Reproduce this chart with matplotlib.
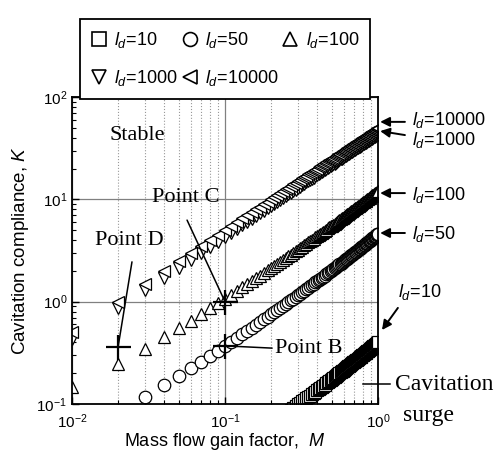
import matplotlib
matplotlib.use('Agg')
import matplotlib.pyplot as plt
from matplotlib.lines import Line2D

plt.rcParams['font.family'] = ['Liberation Sans', 'DejaVu Sans']
plt.rcParams['mathtext.fontset'] = 'custom'
plt.rcParams['mathtext.rm'] = 'Liberation Sans'
plt.rcParams['mathtext.it'] = 'Liberation Sans:italic'
plt.rcParams['mathtext.bf'] = 'Liberation Sans:bold'

# mass flow gain factor M (step 0.01)
M = [0.01, 0.02, 0.03, 0.04, 0.05, 0.06, 0.07, 0.08, 0.09, 0.10,
     0.11, 0.12, 0.13, 0.14, 0.15, 0.16, 0.17, 0.18, 0.19, 0.20,
     0.21, 0.22, 0.23, 0.24, 0.25, 0.26, 0.27, 0.28, 0.29, 0.30,
     0.31, 0.32, 0.33, 0.34, 0.35, 0.36, 0.37, 0.38, 0.39, 0.40,
     0.41, 0.42, 0.43, 0.44, 0.45, 0.46, 0.47, 0.48, 0.49, 0.50,
     0.51, 0.52, 0.53, 0.54, 0.55, 0.56, 0.57, 0.58, 0.59, 0.60,
     0.61, 0.62, 0.63, 0.64, 0.65, 0.66, 0.67, 0.68, 0.69, 0.70,
     0.71, 0.72, 0.73, 0.74, 0.75, 0.76, 0.77, 0.78, 0.79, 0.80,
     0.81, 0.82, 0.83, 0.84, 0.85, 0.86, 0.87, 0.88, 0.89, 0.90,
     0.91, 0.92, 0.93, 0.94, 0.95, 0.96, 0.97, 0.98, 0.99, 1.00]

# l_d = 10, from M = 0.25
K_10 = [0.081, 0.085, 0.088, 0.092, 0.095, 0.099,
        0.103, 0.106, 0.110, 0.114, 0.117, 0.121, 0.125, 0.128, 0.132, 0.136,
        0.140, 0.144, 0.148, 0.151, 0.155, 0.159, 0.163, 0.167, 0.171, 0.175,
        0.179, 0.183, 0.187, 0.191, 0.195, 0.199, 0.204, 0.208, 0.212, 0.216,
        0.220, 0.224, 0.229, 0.233, 0.237, 0.242, 0.246, 0.250, 0.255, 0.259,
        0.263, 0.268, 0.272, 0.277, 0.281, 0.286, 0.290, 0.295, 0.299, 0.304,
        0.309, 0.313, 0.318, 0.323, 0.327, 0.332, 0.337, 0.341, 0.346, 0.351,
        0.356, 0.361, 0.366, 0.370, 0.375, 0.380, 0.385, 0.390, 0.395, 0.400]

# l_d = 50, from M = 0.03
K_50 = [0.117, 0.153, 0.188, 0.224, 0.260, 0.297, 0.333, 0.370,
        0.407, 0.445, 0.482, 0.520, 0.558, 0.596, 0.634, 0.673, 0.712, 0.751,
        0.790, 0.830, 0.869, 0.909, 0.950, 0.990, 1.03, 1.07, 1.11, 1.15,
        1.20, 1.24, 1.28, 1.32, 1.36, 1.41, 1.45, 1.49, 1.54, 1.58,
        1.62, 1.67, 1.71, 1.76, 1.80, 1.85, 1.89, 1.94, 1.98, 2.03,
        2.07, 2.12, 2.17, 2.21, 2.26, 2.31, 2.35, 2.40, 2.45, 2.50,
        2.55, 2.59, 2.64, 2.69, 2.74, 2.79, 2.84, 2.89, 2.94, 2.99,
        3.04, 3.09, 3.14, 3.19, 3.24, 3.30, 3.35, 3.40, 3.45, 3.50,
        3.56, 3.61, 3.66, 3.72, 3.77, 3.82, 3.88, 3.93, 3.99, 4.04,
        4.10, 4.15, 4.21, 4.26, 4.32, 4.38, 4.43, 4.49, 4.55, 4.60]

K_100 = [0.145, 0.246, 0.347, 0.448, 0.550, 0.652, 0.755, 0.858, 0.961, 1.07,
         1.17, 1.27, 1.38, 1.48, 1.59, 1.70, 1.80, 1.91, 2.02, 2.13,
         2.23, 2.34, 2.45, 2.56, 2.67, 2.78, 2.89, 3.00, 3.11, 3.23,
         3.34, 3.45, 3.56, 3.68, 3.79, 3.90, 4.02, 4.13, 4.25, 4.37,
         4.48, 4.60, 4.72, 4.83, 4.95, 5.07, 5.19, 5.31, 5.43, 5.55,
         5.67, 5.79, 5.91, 6.03, 6.15, 6.27, 6.40, 6.52, 6.64, 6.77,
         6.89, 7.01, 7.14, 7.26, 7.39, 7.52, 7.64, 7.77, 7.90, 8.03,
         8.15, 8.28, 8.41, 8.54, 8.67, 8.80, 8.93, 9.06, 9.19, 9.33,
         9.46, 9.59, 9.72, 9.86, 9.99, 10.12, 10.26, 10.39, 10.53, 10.67,
         10.80, 10.94, 11.07, 11.21, 11.35, 11.49, 11.63, 11.77, 11.91, 12.05]

K_1000 = [0.43, 0.86, 1.29, 1.72, 2.15, 2.58, 3.01, 3.44, 3.87, 4.30,
          4.73, 5.16, 5.59, 6.02, 6.45, 6.88, 7.31, 7.74, 8.17, 8.60,
          9.03, 9.46, 9.89, 10.32, 10.75, 11.18, 11.61, 12.04, 12.47, 12.90,
          13.33, 13.76, 14.19, 14.62, 15.05, 15.48, 15.91, 16.34, 16.77, 17.20,
          17.63, 18.06, 18.49, 18.92, 19.35, 19.78, 20.21, 20.64, 21.07, 21.50,
          21.93, 22.36, 22.79, 23.22, 23.65, 24.08, 24.51, 24.94, 25.37, 25.80,
          26.23, 26.66, 27.09, 27.52, 27.95, 28.38, 28.81, 29.24, 29.67, 30.10,
          30.53, 30.96, 31.39, 31.82, 32.25, 32.68, 33.11, 33.54, 33.97, 34.40,
          34.83, 35.26, 35.69, 36.12, 36.55, 36.98, 37.41, 37.84, 38.27, 38.70,
          39.13, 39.56, 39.99, 40.42, 40.85, 41.28, 41.71, 42.14, 42.57, 43.00]

K_10000 = [0.5, 1.0, 1.5, 2.0, 2.5, 3.0, 3.5, 4.0, 4.5, 5.0,
           5.5, 6.0, 6.5, 7.0, 7.5, 8.0, 8.5, 9.0, 9.5, 10.0,
           10.5, 11.0, 11.5, 12.0, 12.5, 13.0, 13.5, 14.0, 14.5, 15.0,
           15.5, 16.0, 16.5, 17.0, 17.5, 18.0, 18.5, 19.0, 19.5, 20.0,
           20.5, 21.0, 21.5, 22.0, 22.5, 23.0, 23.5, 24.0, 24.5, 25.0,
           25.5, 26.0, 26.5, 27.0, 27.5, 28.0, 28.5, 29.0, 29.5, 30.0,
           30.5, 31.0, 31.5, 32.0, 32.5, 33.0, 33.5, 34.0, 34.5, 35.0,
           35.5, 36.0, 36.5, 37.0, 37.5, 38.0, 38.5, 39.0, 39.5, 40.0,
           40.5, 41.0, 41.5, 42.0, 42.5, 43.0, 43.5, 44.0, 44.5, 45.0,
           45.5, 46.0, 46.5, 47.0, 47.5, 48.0, 48.5, 49.0, 49.5, 50.0]

# operating points B, C, D
pt_names = ['Point B', 'Point C', 'Point D']
pt_M = [0.1, 0.1, 0.02]
pt_K = [0.37, 1.0, 0.36]

fig = plt.figure(figsize=(4.99, 4.53), dpi=100)
ax = fig.add_axes([72 / 499, 49 / 453, 306 / 499, 307 / 453])
ax.set_xscale('log')
ax.set_yscale('log')
ax.set_xlim(0.01, 1)
ax.set_ylim(0.1, 100)

mk = dict(ls='none', mfc='white', mec='k', ms=9, mew=0.9)
ax.plot(M[24:], K_10, marker='s', **mk)
ax.plot(M[2:], K_50, marker='o', **mk)
ax.plot(M, K_100, marker='^', **mk)
ax.plot(M, K_1000, marker='v', **mk)
ax.plot(M, K_10000, marker='<', **mk)

ax.plot(pt_M, pt_K, ls='none', marker='+', ms=18, mew=1.6, color='k', zorder=5)

ax.set_axisbelow(True)
ax.grid(which='major', color='0.5', lw=0.9)
ax.grid(which='minor', axis='x', color='0.6', ls=':', lw=0.8)
for s in ax.spines.values():
    s.set_linewidth(1.3)
ax.tick_params(which='both', direction='in', top=False, right=False, labelsize=11)
ax.tick_params(which='major', length=5, width=1)
ax.tick_params(which='minor', length=3, width=0.8)
ax.tick_params(axis='x', which='major', pad=6)

ax.set_xlabel('Mass flow gain factor,  $M$', fontsize=13, labelpad=0)
ax.set_ylabel('Cavitation compliance, $K$', fontsize=13.5, labelpad=4)

serif = dict(family='Liberation Serif', fontsize=16, transform=ax.transAxes)
ax.text(0.124, 0.873, 'Stable', va='center', **serif)
ax.text(0.261, 0.673, pt_names[1], va='center', **serif)
ax.text(0.075, 0.534, pt_names[2], va='center', **serif)
ax.text(0.663, 0.182, pt_names[0], va='center', **serif)
ax.text(1.056, 0.062, 'Cavitation', va='center', family='Liberation Serif',
        fontsize=17, transform=ax.transAxes)
ax.text(1.082, -0.039, 'surge', va='center', family='Liberation Serif',
        fontsize=17, transform=ax.transAxes)

lead = dict(arrowstyle='-', color='k', lw=1.1, shrinkA=0, shrinkB=0)
ax.annotate('', xy=(pt_M[1], pt_K[1]), xytext=(0.376, 0.599),
            textcoords='axes fraction', arrowprops=lead)
ax.annotate('', xy=(pt_M[2], pt_K[2]), xytext=(0.196, 0.463),
            textcoords='axes fraction', arrowprops=lead)
ax.annotate('', xy=(pt_M[0], pt_K[0]), xytext=(0.654, 0.182),
            textcoords='axes fraction', arrowprops=lead)
ax.plot([0.951, 1.039], [0.065, 0.065], color='k', lw=1.1,
        transform=ax.transAxes, clip_on=False)

# right side labels with arrows
arr = dict(arrowstyle='-|>', color='k', lw=1.4, mutation_scale=14, shrinkA=0, shrinkB=0)
right = [('$l_d$=10000', 0.925, (1.088, 0.919), (1.007, 0.919)),
         ('$l_d$=1000', 0.860, (1.088, 0.876), (1.007, 0.889)),
         ('$l_d$=100', 0.681, (1.088, 0.687), (1.007, 0.687)),
         ('$l_d$=50', 0.554, (1.088, 0.557), (1.007, 0.557))]
for lab, ty, tail, tip in right:
    ax.text(1.111, ty, lab, fontsize=13, va='center', transform=ax.transAxes)
    ax.annotate('', xy=tip, xycoords='axes fraction', xytext=tail,
                textcoords='axes fraction', arrowprops=arr, annotation_clip=False)
ax.text(1.065, 0.365, '$l_d$=10', fontsize=13, va='center', transform=ax.transAxes)
ax.annotate('', xy=(1.013, 0.241), xycoords='axes fraction', xytext=(1.065, 0.313),
            textcoords='axes fraction', arrowprops=arr, annotation_clip=False)

# legend box above the axes
hk = dict(ls='none', mfc='white', mec='k', ms=10, mew=1.2)
handles = [Line2D([], [], marker='s', **hk), Line2D([], [], marker='v', **hk),
           Line2D([], [], marker='o', **hk), Line2D([], [], marker='<', **hk),
           Line2D([], [], marker='^', **hk)]
labels = ['$l_d$=10', '$l_d$=1000', '$l_d$=50', '$l_d$=10000', '$l_d$=100']
leg = fig.legend(handles, labels, ncol=3, loc='upper left', mode='expand',
                 bbox_to_anchor=(71 / 499, 1 - 10 / 453, 308 / 499, 0),
                 fontsize=13, handlelength=0.9, handletextpad=0.4,
                 labelspacing=1.0, borderpad=0.6, fancybox=False,
                 edgecolor='k', framealpha=1)
leg.get_frame().set_linewidth(1.3)

plt.savefig('out.png', dpi=100)
